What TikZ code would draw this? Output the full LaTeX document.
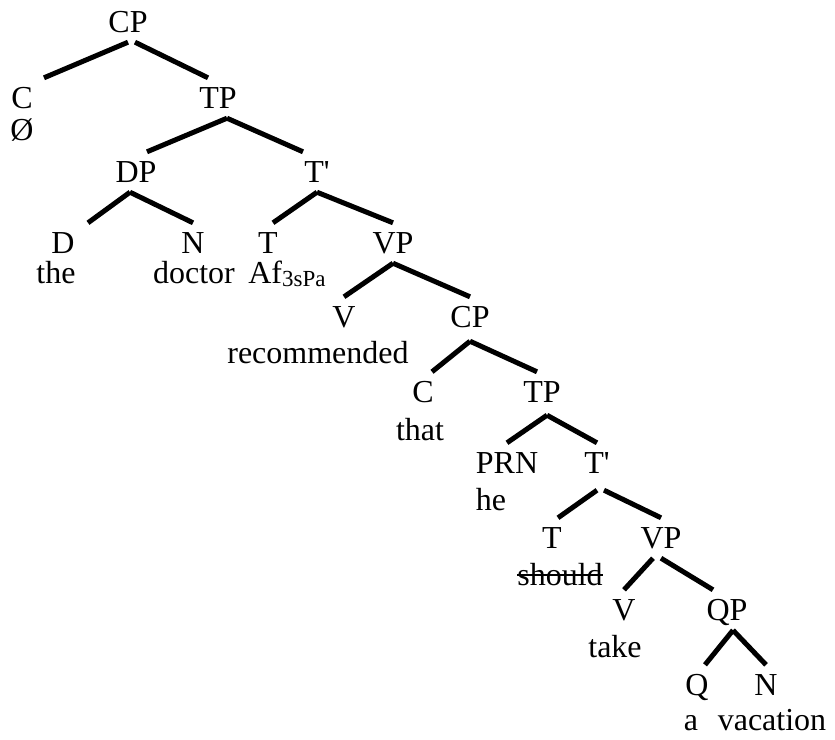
\documentclass[tikz,border=0pt]{standalone}
\usepackage{fontspec}
\setmainfont{Liberation Serif}
\usepackage{tikz}

\tikzset{
  cat/.style={font=\fontsize{32}{38}\selectfont, inner sep=0pt,
    text height=30pt, text depth=10pt, anchor=base},
  word/.style={font=\fontsize{32}{38}\selectfont, inner sep=0pt, anchor=base},
  branch/.style={line width=5pt}
}
\newcommand{\tbar}{T\textquotesingle}
\newsavebox{\strikebox}
\newcommand{\struck}[1]{\sbox{\strikebox}{#1}\rlap{\usebox{\strikebox}}\rule[9pt]{\wd\strikebox}{1.6pt}}

\begin{document}
\begin{tikzpicture}[x=1pt,y=-1pt]
    \useasboundingbox (0,0) rectangle (835,739);
    % categories
    \node[cat] (cp0) at (128,32) {CP};
    \node[cat] (c0) at (22,108) {C};
    \node[word] (null) at (22,140) {Ø};
    \node[cat] (tp0) at (218,108) {TP};
    \node[cat] (dp) at (136,182) {DP};
    \node[cat] (tbar0) at (317,182) {\tbar};
    \node[cat] (d) at (63,253) {D};
    \node[word] (the) at (56,283) {the};
    \node[cat] (n0) at (193,253) {N};
    \node[word] (doctor) at (194,283) {doctor};
    \node[cat] (t0) at (268,253) {T};
    \node[word] (af) at (287,283) {Af\raisebox{-3pt}{\fontsize{23}{26}\selectfont 3sPa}};
    \node[cat] (vp0) at (393,253) {VP};
    \node[cat] (v0) at (344,327) {V};
    \node[word] (recommended) at (318,363) {recommended};
    \node[cat] (cp1) at (470,327) {CP};
    \node[cat] (c1) at (423,402) {C};
    \node[word] (that) at (420,440) {that};
    \node[cat] (tp1) at (542,402) {TP};
    \node[cat] (prn) at (507,473) {PRN};
    \node[word] (he) at (491,510) {he};
    \node[cat] (tbar1) at (597,473) {\tbar};
    \node[cat] (t1) at (552,548) {T};
    \node[word] (should) at (560,585) {\struck{should}};
    \node[cat] (vp1) at (661,548) {VP};
    \node[cat] (v1) at (624,620) {V};
    \node[word] (take) at (615,657) {take};
    \node[cat] (qp) at (727,620) {QP};
    \node[cat] (q) at (697,695) {Q};
    \node[word] (a) at (691,730) {a};
    \node[cat] (n1) at (766,695) {N};
    \node[word] (vacation) at (772,730) {vacation};
    % branches
    \draw[branch] (cp0.south) -- ([xshift=22pt]c0.north);
    \draw[branch] ([xshift=7pt]cp0.south) -- ([xshift=-10pt]tp0.north);
    \draw[branch] ([xshift=9pt]tp0.south) -- ([xshift=11pt]dp.north);
    \draw[branch] ([xshift=9pt]tp0.south) -- ([xshift=-14pt]tbar0.north);
    \draw[branch] ([xshift=-6pt]dp.south) -- ([xshift=25pt]d.north);
    \draw[branch] ([xshift=-6pt]dp.south) -- (n0.north);
    \draw[branch] (tbar0.south) -- ([xshift=5pt]t0.north);
    \draw[branch] (tbar0.south) -- (vp0.north);
    \draw[branch] (vp0.south) -- (v0.north);
    \draw[branch] (vp0.south) -- (cp1.north);
    \draw[branch] ([yshift=-4pt]cp1.south) -- ([xshift=9pt]c1.north);
    \draw[branch] ([yshift=-4pt]cp1.south) -- ([xshift=-5pt]tp1.north);
    \draw[branch] ([xshift=5pt,yshift=-3pt]tp1.south) -- (prn.north);
    \draw[branch] ([xshift=5pt,yshift=-3pt]tp1.south) -- (tbar1.north);
    \draw[branch] ([yshift=-7pt]tbar1.south) -- ([xshift=6pt]t1.north);
    \draw[branch] ([xshift=7pt,yshift=-7pt]tbar1.south) -- (vp1.north);
    \draw[branch] ([xshift=-8pt]vp1.south) -- (v1.north);
    \draw[branch] (vp1.south) -- ([xshift=-14pt]qp.north);
    \draw[branch] ([xshift=6pt]qp.south) -- ([xshift=8pt]q.north);
    \draw[branch] ([xshift=6pt]qp.south) -- (n1.north);
\end{tikzpicture}
\end{document}
